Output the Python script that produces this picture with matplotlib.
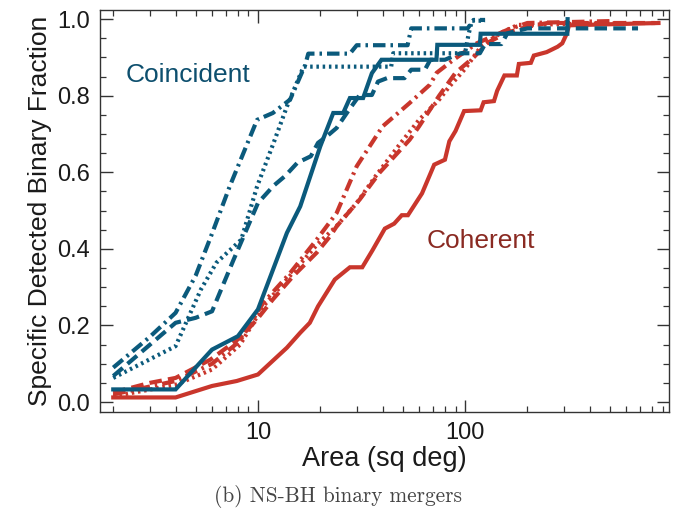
import matplotlib
matplotlib.use("Agg")
import matplotlib.pyplot as plt
from matplotlib.ticker import FixedLocator, NullFormatter, FixedFormatter
import numpy as np

plt.rcParams['font.family'] = ['Liberation Sans', 'DejaVu Sans']

blue = '#0b5a7c'
red = '#c9362c'

# coincident (blue) curves
coin_solid_x = [2, 4, 6, 8, 10, 13.8, 16, 20, 23.1, 25.8, 27.8, 32.2, 35.5, 39.5, 72.8, 73.5, 118, 119, 312, 313]
coin_solid_y = [0.033, 0.033, 0.137, 0.172, 0.242, 0.442, 0.511, 0.668, 0.755, 0.755, 0.794, 0.794, 0.859, 0.894,
                0.894, 0.933, 0.933, 0.962, 0.962, 1.0]
coin_dash_x = [2, 4, 5, 6, 7.6, 10, 11.9, 13.5, 15.5, 18, 19.5, 21.5, 24, 27.5, 31, 35.5, 38, 42, 51, 55, 64, 68,
               80, 95, 118, 125, 150, 160, 200, 685]
coin_dash_y = [0.068, 0.207, 0.22, 0.237, 0.37, 0.52, 0.565, 0.59, 0.625, 0.642, 0.677, 0.694, 0.716, 0.763, 0.802,
               0.802, 0.837, 0.846, 0.846, 0.868, 0.868, 0.894, 0.894, 0.911, 0.911, 0.935, 0.935, 0.963, 0.976, 0.976]
coin_dot_x = [2, 4, 5.3, 6.3, 8.3, 9.9, 11.9, 13.8, 16.6, 44, 45, 100, 104, 108, 125]
coin_dot_y = [0.063, 0.146, 0.294, 0.364, 0.424, 0.563, 0.677, 0.772, 0.876, 0.876, 0.911, 0.911, 0.96, 0.996, 0.996]
coin_dashdot_x = [2, 3, 4, 5, 6, 7.3, 9.9, 11.8, 14.3, 16.9, 17.5, 27.8, 30, 52.8, 55, 103, 110, 125]
coin_dashdot_y = [0.09, 0.17, 0.233, 0.33, 0.44, 0.563, 0.737, 0.755, 0.79, 0.88, 0.91, 0.91, 0.932, 0.932, 0.976,
                  0.976, 0.998, 0.998]

# coherent (red) curves
coh_solid_x = [2, 4, 6, 7.9, 10, 13.8, 16, 17.8, 19.5, 23.5, 27.8, 31.9, 35.7, 41, 45.5, 49.5, 53, 62, 71, 80, 84,
               90, 99, 119, 123, 138, 143, 155, 178, 182, 208, 215, 248, 280, 295, 310, 318, 860]
coh_solid_y = [0.012, 0.012, 0.042, 0.055, 0.072, 0.142, 0.181, 0.207, 0.25, 0.32, 0.352, 0.352, 0.396, 0.453, 0.466,
               0.488, 0.488, 0.545, 0.62, 0.633, 0.681, 0.708, 0.76, 0.762, 0.783, 0.786, 0.813, 0.853, 0.853, 0.883,
               0.886, 0.905, 0.914, 0.928, 0.937, 0.962, 0.984, 0.99]
coh_dash_x = [2, 3, 4, 5.9, 8.2, 9.9, 11.8, 14.8, 19.2, 22.3, 24, 31, 38.8, 54, 60, 75, 90, 110, 130, 160, 200, 250, 830]
coh_dash_y = [0.025, 0.05, 0.063, 0.111, 0.168, 0.216, 0.268, 0.329, 0.39, 0.433, 0.459, 0.529, 0.6, 0.685, 0.72,
              0.8, 0.86, 0.9, 0.94, 0.965, 0.98, 0.99, 0.99]
coh_dot_x = [2, 4, 6, 8.2, 10.6, 14.3, 19.2, 24, 30, 37, 49, 60, 75, 84, 100, 120, 150, 180, 600]
coh_dot_y = [0.015, 0.045, 0.085, 0.15, 0.25, 0.33, 0.41, 0.46, 0.52, 0.59, 0.677, 0.737, 0.79, 0.824, 0.87, 0.93,
             0.965, 0.985, 0.99]
coh_dashdot_x = [2, 4, 6, 8.2, 10.6, 14.3, 19.2, 24, 30, 40, 54, 67.7, 73, 88, 114, 160, 200, 500]
coh_dashdot_y = [0.02, 0.055, 0.1, 0.16, 0.259, 0.337, 0.424, 0.494, 0.616, 0.72, 0.781, 0.829, 0.86, 0.894, 0.937,
                 0.972, 0.99, 0.995]

ls_dash = (0, (3, 1.5))
ls_dot = (0, (0.6, 0.9))
ls_dashdot = (0, (3, 1.2, 0.6, 1.2))

fig = plt.figure(figsize=(6.89, 5.15), dpi=100)
ax = fig.add_axes([0.145, 0.2, 0.826, 0.7806])

lw = 3.0
ax.plot(coh_solid_x, coh_solid_y, color=red, lw=lw, solid_joinstyle='miter')
ax.plot(coh_dash_x, coh_dash_y, color=red, lw=lw, linestyle=ls_dash)
ax.plot(coh_dot_x, coh_dot_y, color=red, lw=lw, linestyle=ls_dot)
ax.plot(coh_dashdot_x, coh_dashdot_y, color=red, lw=lw, linestyle=ls_dashdot)
ax.plot(coin_solid_x, coin_solid_y, color=blue, lw=lw, solid_joinstyle='miter')
ax.plot(coin_dash_x, coin_dash_y, color=blue, lw=lw, linestyle=ls_dash)
ax.plot(coin_dot_x, coin_dot_y, color=blue, lw=lw, linestyle=ls_dot)
ax.plot(coin_dashdot_x, coin_dashdot_y, color=blue, lw=lw, linestyle=ls_dashdot)

ax.set_xscale('log')
ax.set_xlim(1.724, 967)
ax.set_ylim(-0.026, 1.024)

ax.xaxis.set_major_locator(FixedLocator([10, 100]))
ax.xaxis.set_major_formatter(FixedFormatter(['10', '100']))
minors = [m * d for d in (1, 10, 100) for m in range(2, 10)]
ax.xaxis.set_minor_locator(FixedLocator(minors))
ax.xaxis.set_minor_formatter(NullFormatter())
ax.set_yticks(np.arange(0, 1.01, 0.2))
ax.set_yticklabels(['0.0', '0.2', '0.4', '0.6', '0.8', '1.0'])
ax.set_yticks(np.arange(0, 1.01, 0.05), minor=True)

ax.tick_params(which='both', direction='in', top=True, right=True, color='#333333', labelsize=17,
               labelcolor='#1a1a1a')
ax.tick_params(which='major', length=9, width=1.0, pad=7)
ax.tick_params(which='minor', length=4.5, width=0.9)
for sp in ax.spines.values():
    sp.set_color('#333333')
    sp.set_linewidth(1.0)

ax.set_xlabel('Area (sq deg)', fontsize=19.5, color='#1a1a1a', labelpad=2)
ax.set_ylabel('Specific Detected Binary Fraction', fontsize=19, color='#1a1a1a', labelpad=4)

ax.text(2.3, 0.855, 'Coincident', color='#0d4f6e', fontsize=19, va='center', ha='left')
ax.text(65, 0.42, 'Coherent', color='#8a2a22', fontsize=19, va='center', ha='left')

fig.text(0.49, 0.035, '(b) NS-BH binary mergers', family='cmr10', fontsize=15.3, color='#444444',
         ha='center', va='center')

fig.savefig('out.png', dpi=100)
